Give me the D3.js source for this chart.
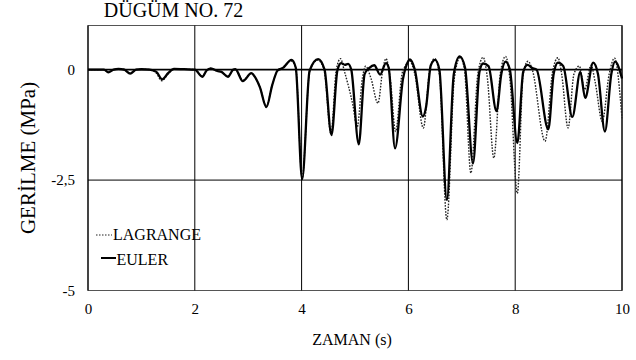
<!DOCTYPE html>
<html>
<head>
<meta charset="utf-8">
<script src="https://cdn.jsdelivr.net/npm/d3@7/dist/d3.min.js"></script>
<style>
  html, body { margin: 0; padding: 0; background: #fff; }
  svg { display: block; }
</style>
</head>
<body>
<svg id="chart" width="636" height="360"></svg>
<script>
// ---- Data ----
const eulerT = [0, 0.3, 0.38, 0.48, 0.57, 0.68, 0.79, 0.9, 1.0, 1.15, 1.28, 1.39, 1.5, 1.61, 1.8, 2.0,
  2.14, 2.22, 2.3, 2.42, 2.5, 2.62, 2.72, 2.76, 2.9, 3.06, 3.1, 3.22, 3.34, 3.45, 3.55, 3.65, 3.81, 3.89,
  4.01, 4.15, 4.31, 4.43, 4.56, 4.67, 4.74, 4.81, 4.87, 4.93, 5.07, 5.18, 5.27, 5.36, 5.47, 5.58, 5.63,
  5.75, 5.9, 5.95, 6.03, 6.12, 6.27, 6.33, 6.42, 6.5, 6.58, 6.72, 6.85, 6.96, 7.06, 7.21, 7.33, 7.4, 7.5,
  7.65, 7.74, 7.82, 7.9, 8.04, 8.15, 8.23, 8.32, 8.4, 8.62, 8.72, 8.8, 8.9, 9.07, 9.22, 9.31, 9.46, 9.55,
  9.68, 9.8, 9.87, 10];
const eulerV = [0, 0, -0.06, 0, 0.02, 0, -0.09, 0, 0.01, 0, -0.05, -0.22, -0.08, 0.02, 0.01, 0,
  -0.16, -0.02, 0.03, -0.03, -0.05, -0.16, 0.0, 0.01, -0.26, -0.08, -0.12, -0.4, -0.85, -0.35, -0.02, 0.04, 0.22, 0.05,
  -2.48, -0.02, 0.24, 0.0, -1.48, -0.02, 0.15, 0.11, 0.13, 0.0, -1.69, -0.1, 0.04, 0.1, -0.11, 0.15, 0.05,
  -1.78, -0.2, 0.05, 0.23, 0.0, -1.06, -0.85, 0.1, 0.22, 0.0, -2.95, -0.1, 0.3, 0.05, -2.12, -0.05, 0.14, 0.08,
  -0.94, -0.1, 0.18, 0.0, -1.66, -0.05, 0.11, 0.04, 0.0, -1.35, -0.1, 0.16, 0.08, -1.07, -0.05, -0.64, 0.16, -0.1,
  -1.4, -0.1, 0.18, -0.2];

const lagrangeT = [0, 0.3, 0.38, 0.48, 0.57, 0.68, 0.79, 0.9, 1.0, 1.15, 1.28, 1.38, 1.5, 1.61, 1.8, 2.0,
  2.14, 2.22, 2.3, 2.42, 2.5, 2.62, 2.72, 2.76, 2.9, 3.06, 3.1, 3.22, 3.34, 3.45, 3.55, 3.65, 3.8, 3.89,
  4.01, 4.15, 4.3, 4.42, 4.55, 4.65, 4.73, 4.8, 4.96, 5.04, 5.14, 5.2, 5.3, 5.43, 5.52, 5.58, 5.66,
  5.76, 5.88, 5.95, 6.02, 6.12, 6.28, 6.4, 6.49, 6.58, 6.72, 6.86, 6.97, 7.05, 7.17, 7.3, 7.4, 7.48,
  7.6, 7.72, 7.82, 7.9, 8.04, 8.15, 8.24, 8.32, 8.56, 8.7, 8.8, 8.87, 8.99, 9.1, 9.2, 9.3, 9.42, 9.5,
  9.63, 9.76, 9.86, 10];
const lagrangeV = [0, 0, -0.05, 0, 0.02, 0, -0.08, 0, 0.01, 0, -0.08, -0.25, -0.1, 0.02, 0.01, 0,
  -0.15, -0.02, 0.03, -0.03, -0.05, -0.15, 0.0, 0.01, -0.24, -0.08, -0.12, -0.4, -0.82, -0.35, -0.02, 0.05, 0.2, 0.05,
  -2.45, -0.05, 0.22, 0.0, -1.45, 0.0, 0.25, -0.03, -0.8, -1.3, -0.18, 0.08, -0.2, -0.76, 0.0, 0.25, -0.2,
  -1.4, -0.1, 0.1, 0.2, -0.1, -1.32, 0.0, 0.25, -0.1, -3.4, -0.2, 0.28, 0.0, -2.34, -0.1, 0.28, -0.2,
  -2.0, -0.1, 0.3, -0.2, -2.8, -0.1, 0.19, 0.0, -1.62, -0.05, 0.27, -0.1, -1.32, -0.1, 0.08, -0.45, 0.1, -0.3,
  -1.17, -0.1, 0.26, -1.1];

const xTicks = [0, 2, 4, 6, 8, 10];
const yTicks = [0, -2.5, -5];
const xGrid = [2, 4, 6, 8];
const yGrid = [0, -2.5];
const titleText = "DÜGÜM NO. 72";
const xLabel = "ZAMAN (s)";
const yLabel = "GERİLME (MPa)";
const seriesNames = ["LAGRANGE", "EULER"];

const SERIF = "'Liberation Serif', 'Times New Roman', Times, serif";

// ---- Layout ----
const svg = d3.select("#chart");
const x = d3.scaleLinear().domain([0, 10]).range([88, 622]);
const y = d3.scaleLinear().domain([-5, 1]).range([290.5, 25.5]);

// frame
svg.append("rect")
  .attr("x", x(0)).attr("y", y(1))
  .attr("width", x(10) - x(0)).attr("height", y(-5) - y(1))
  .attr("fill", "none").attr("stroke", "#555").attr("stroke-width", 1);
svg.append("line").attr("x1", x(0)).attr("x2", x(0)).attr("y1", y(1)).attr("y2", y(-5))
  .attr("stroke", "#000").attr("stroke-width", 1.2);
svg.append("line").attr("x1", x(10)).attr("x2", x(10)).attr("y1", y(1)).attr("y2", y(-5))
  .attr("stroke", "#000").attr("stroke-width", 1.2);

// grid
svg.selectAll(".vgrid").data(xGrid).enter().append("line")
  .attr("x1", d => x(d)).attr("x2", d => x(d))
  .attr("y1", y(1)).attr("y2", y(-5))
  .attr("stroke", "#000").attr("stroke-width", 1);
svg.selectAll(".hgrid").data(yGrid).enter().append("line")
  .attr("x1", x(0)).attr("x2", x(10))
  .attr("y1", d => y(d)).attr("y2", d => y(d))
  .attr("stroke", "#000").attr("stroke-width", d => d === 0 ? 1.8 : 1);

// axes
const fmtY = d => d === 0 ? "0" : String(d).replace(".", ",");
const xAxis = svg.append("g").attr("transform", `translate(0,${y(-5)})`)
  .call(d3.axisBottom(x).tickValues(xTicks).tickSize(0).tickPadding(13).tickFormat(d3.format("d")));
const yAxis = svg.append("g").attr("transform", `translate(${x(0)},0)`)
  .call(d3.axisLeft(y).tickValues(yTicks).tickSize(0).tickPadding(13).tickFormat(fmtY));
[xAxis, yAxis].forEach(g => {
  g.attr("font-family", null).attr("font-size", null);
  g.select(".domain").remove();
  g.selectAll("text").style("font-family", SERIF).style("font-size", "15px").attr("fill", "#000");
});

// lines
const line = d3.line().x(d => x(d[0])).y(d => y(d[1])).curve(d3.curveMonotoneX);
const lagData = d3.zip(lagrangeT, lagrangeV);
const eulData = d3.zip(eulerT, eulerV);
svg.append("path").datum(lagData).attr("d", line)
  .attr("fill", "none").attr("stroke", "#222").attr("stroke-width", 1.4)
  .attr("stroke-dasharray", "1.6,1.4");
svg.append("path").datum(eulData).attr("d", line)
  .attr("fill", "none").attr("stroke", "#000").attr("stroke-width", 2.3)
  .attr("stroke-linejoin", "round");

// legend
const leg = svg.append("g");
leg.append("line").attr("x1", 96).attr("x2", 112).attr("y1", 235).attr("y2", 235)
  .attr("stroke", "#222").attr("stroke-width", 1.2).attr("stroke-dasharray", "1.5,1.5");
leg.append("text").attr("x", 113).attr("y", 239.5).style("font-family", SERIF).style("font-size", "16px").text(seriesNames[0]);
leg.append("line").attr("x1", 101).attr("x2", 116).attr("y1", 258).attr("y2", 258)
  .attr("stroke", "#000").attr("stroke-width", 2);
leg.append("text").attr("x", 116.5).attr("y", 264.5).style("font-family", SERIF).style("font-size", "16px").text(seriesNames[1]);

// titles
svg.append("text").attr("x", 173.5).attr("y", 17).attr("text-anchor", "middle")
  .style("font-family", SERIF).style("font-size", "20px").text(titleText);
svg.append("text").attr("x", 352).attr("y", 345).attr("text-anchor", "middle")
  .style("font-family", SERIF).style("font-size", "16px").text(xLabel);
svg.append("text").attr("transform", `translate(35,158) rotate(-90)`)
  .attr("text-anchor", "middle").style("font-family", SERIF).style("font-size", "21px").text(yLabel);
</script>
</body>
</html>
